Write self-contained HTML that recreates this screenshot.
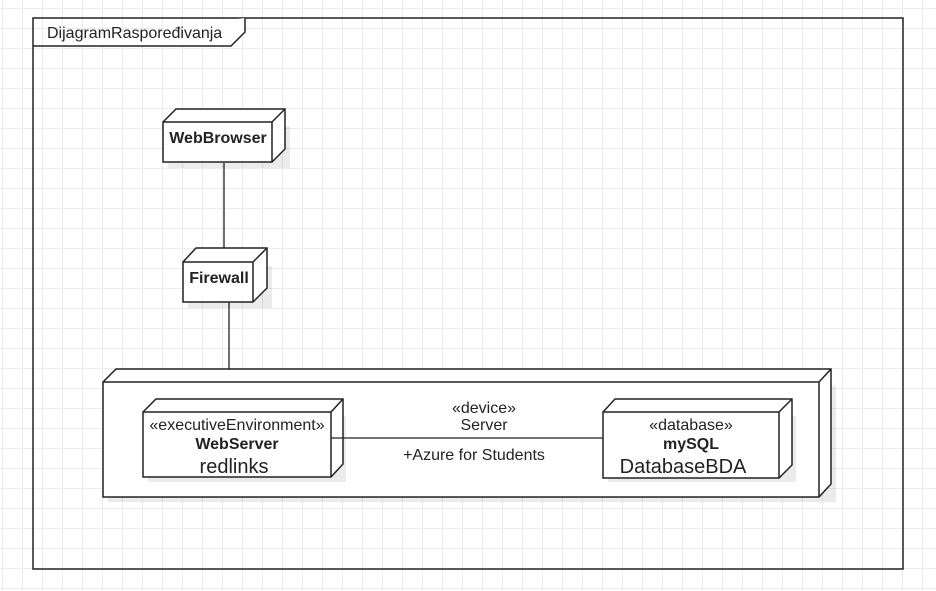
<!DOCTYPE html>
<html><head><meta charset="utf-8"><style>
html,body{margin:0;padding:0;background:#fff;}
body{width:936px;height:591px;overflow:hidden;
background-image:linear-gradient(to right,#ececec 1px,transparent 1px),linear-gradient(to bottom,#ececec 1px,transparent 1px);
background-size:20px 20px;background-position:2px 8px;}
svg{position:absolute;left:0;top:0;}
text{font-family:"Liberation Sans",Arial,sans-serif;fill:#222;}
</style></head><body>
<svg width="936" height="591" viewBox="0 0 936 591">
<g fill="none" stroke="#222" stroke-width="1.5">
<rect x="33" y="18" width="870" height="551"/>
<path d="M33 46 H231 L245 32 V18" fill="#fff"/>
</g>
<text x="47" y="38" font-size="16">DijagramRaspoređivanja</text>

<g stroke="#222" stroke-width="1.3">
<line x1="224" y1="163" x2="224" y2="250"/>
<line x1="229" y1="302" x2="229" y2="399"/>
</g>

<g fill="#000" opacity="0.08">
<rect x="168" y="126" width="122" height="42"/>
<rect x="188" y="266" width="84" height="42"/>
<rect x="108" y="386" width="728" height="116"/>
</g>

<g stroke="#222" stroke-width="1.5" fill="#fff">
<path d="M163 122 L176 109 H285 V149 L272 162 H163 Z"/>
<path d="M163 122 H272 V162 M272 122 L285 109" fill="none"/>
<path d="M183 262 L196 248 H267 V288 L253 302 H183 Z"/>
<path d="M183 262 H253 V302 M253 262 L267 248" fill="none"/>
<path d="M103 382 L116 369 H831 V484 L819 497 H103 Z"/>
<path d="M103 382 H819 V497 M819 382 L831 369" fill="none"/>
</g>
<g fill="#000" opacity="0.08">
<rect x="148" y="416" width="198" height="66"/>
<rect x="608" y="416" width="188" height="66"/>
</g>
<g stroke="#222" stroke-width="1.5" fill="#fff">
<path d="M143 412 L156 399 H343 V464 L331 477 H143 Z"/>
<path d="M143 412 H331 V477 M331 412 L343 399" fill="none"/>
<path d="M603 412 L615 399 H792 V465 L779 478 H603 Z"/>
<path d="M603 412 H779 V478 M779 412 L792 399" fill="none"/>
</g>
<line x1="331" y1="438" x2="603" y2="438" stroke="#222" stroke-width="1.3"/>

<text x="218" y="143" font-size="16" font-weight="bold" text-anchor="middle">WebBrowser</text>
<text x="219" y="283" font-size="16" font-weight="bold" text-anchor="middle">Firewall</text>
<text x="237" y="430" font-size="16" text-anchor="middle">«executiveEnvironment»</text>
<text x="237" y="449" font-size="16" font-weight="bold" text-anchor="middle">WebServer</text>
<text x="234" y="473" font-size="20" text-anchor="middle">redlinks</text>
<text x="691" y="430" font-size="16" text-anchor="middle">«database»</text>
<text x="691" y="449" font-size="16" font-weight="bold" text-anchor="middle">mySQL</text>
<text x="683" y="473" font-size="20" text-anchor="middle">DatabaseBDA</text>
<text x="484" y="413" font-size="16" text-anchor="middle">«device»</text>
<text x="484" y="430" font-size="16" text-anchor="middle">Server</text>
<text x="474" y="460" font-size="16" text-anchor="middle">+Azure for Students</text>
</svg>
</body></html>
